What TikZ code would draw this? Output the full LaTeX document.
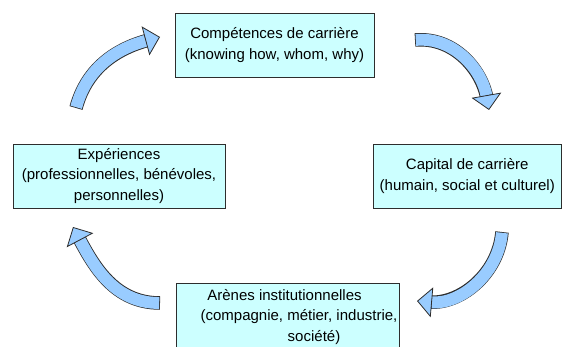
\documentclass[tikz,border=0pt]{standalone}
\usepackage{fontspec}
\setmainfont{Liberation Sans}
\usetikzlibrary{arrows.meta, positioning}
\definecolor{boxfill}{RGB}{204,255,255}
\definecolor{boxline}{RGB}{45,45,45}
\definecolor{arrowfill}{RGB}{153,204,255}
\definecolor{arrowline}{RGB}{45,45,45}
% curved block arrow: start, out angle, in angle, end
\newcommand{\bentarrow}[4]{%
  \draw[draw=arrowline, line width=13.5pt, shorten >=12pt] #1 to[out=#2,in=#3] #4;
  \draw[draw=arrowfill, line width=11.9pt, shorten <=0.8pt,
    -{Triangle[length=15pt, width=30pt, color=arrowline, fill=arrowfill, line width=0.8pt]}]
    #1 to[out=#2,in=#3] #4;
}

\begin{document}
\begin{tikzpicture}[x=1pt, y=1pt,
  stage/.style={rectangle, draw=boxline, fill=boxfill, line width=0.8pt, align=center,
    minimum height=64pt, inner xsep=0pt, inner ysep=3pt, font=\fontsize{15}{20.5}\selectfont}]
\useasboundingbox (0,0) rectangle (562,346);
\clip (0,0) rectangle (562,346);

% Boxes
\node[stage, minimum width=199pt] (comp) at (274.5,301) {Compétences de carrière\\(knowing how, whom, why)};
\node[stage, minimum width=188.5pt] (capital) at (467.25,170) {Capital de carrière\\(humain, social et culturel)};
\node[stage, minimum width=212pt] (exp) at (119,170) {Expériences\\(professionnelles, bénévoles,\\personnelles)};
\node[stage, minimum width=223pt, minimum height=0pt, inner ysep=6pt, anchor=north] (arenes) at (287.5,63)
  {Arènes institutionnelles\hspace*{6pt}\\\hspace*{23pt}(compagnie, métier, industrie,\\\hspace*{53pt}société)};

% Arrows
\coordinate (a1) at (76,238);  \coordinate (b1) at (160,309);
\coordinate (a2) at (415,306); \coordinate (b2) at (489,236);
\coordinate (a3) at (502,114); \coordinate (b3) at (417,45);
\coordinate (a4) at (160,43);  \coordinate (b4) at (73,119);
\bentarrow{(a1)}{75}{195}{(b1)}
\bentarrow{(a2)}{5}{100}{(b2)}
\bentarrow{(a3)}{265}{-5}{(b3)}
\bentarrow{(a4)}{180}{-62}{(b4)}
\end{tikzpicture}
\end{document}
